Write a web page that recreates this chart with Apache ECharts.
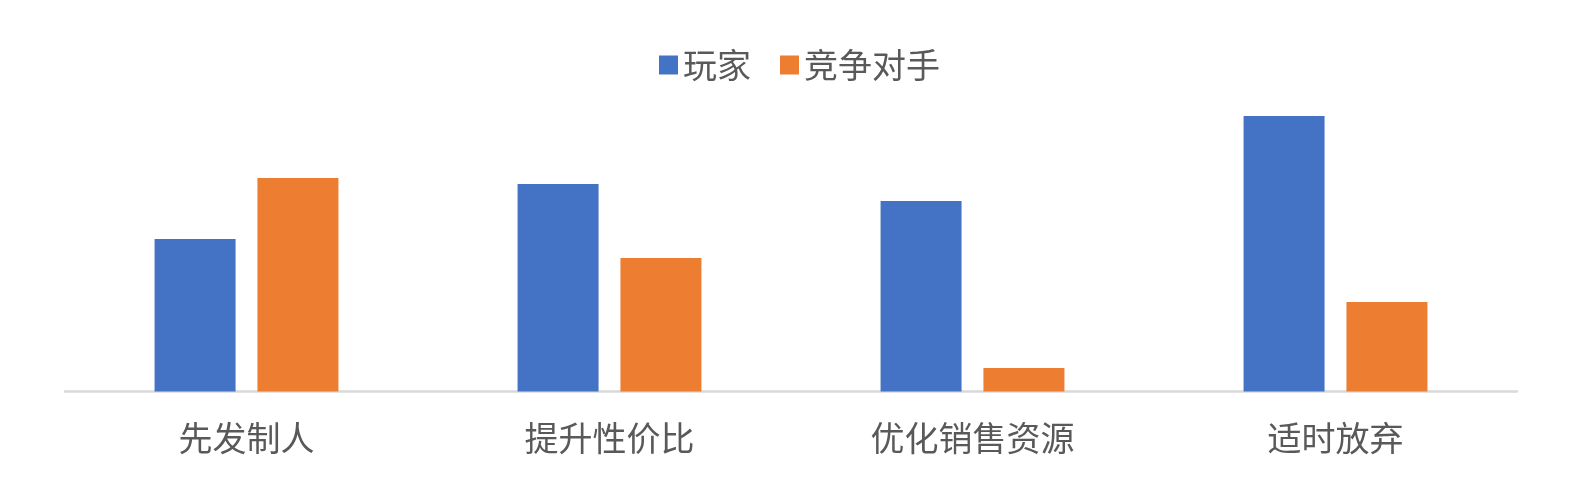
<!DOCTYPE html>
<html>
<head>
<meta charset="utf-8">
<script src="https://cdn.jsdelivr.net/npm/echarts@6/dist/echarts.min.js"></script>
<style>
  html, body { margin: 0; padding: 0; background: #fff; }
  #main { width: 1575px; height: 478px; }
</style>
</head>
<body>
<div id="main"></div>
<script>
// 数据
var categories = ['先发制人', '提升性价比', '优化销售资源', '适时放弃'];
var seriesNames = ['玩家', '竞争对手'];
var playerValues = [3.05, 4.15, 3.81, 5.51];
var rivalValues = [4.27, 2.67, 0.47, 1.79];

var myChart = echarts.init(document.getElementById('main'));

var font = '"Noto Sans CJK SC", "Microsoft YaHei", sans-serif';

var option = {
    animation: false,
    textStyle: { fontFamily: font },
    color: ['#4472C4', '#ED7D31'],
    legend: {
        data: seriesNames,
        left: 654,
        top: 43,
        itemWidth: 19,
        itemHeight: 19,
        itemGap: 29,
        icon: 'rect',
        textStyle: { fontSize: 34, color: '#595959', fontFamily: font }
    },
    grid: {
        left: 65,
        right: 58,
        top: 91.5,
        bottom: 86.5,
        containLabel: false
    },
    xAxis: {
        type: 'category',
        data: categories,
        offset: 1.25,
        axisLine: { lineStyle: { color: '#d9d9d9', width: 2.5 } },
        axisTick: { show: false },
        axisLabel: { fontSize: 34, color: '#595959', margin: 28, fontFamily: font }
    },
    yAxis: {
        type: 'value',
        min: 0,
        max: 6,
        show: false,
        splitLine: { show: false }
    },
    series: [{
        name: seriesNames[0],
        type: 'bar',
        barWidth: 81,
        barGap: '27%',
        data: playerValues
    }, {
        name: seriesNames[1],
        type: 'bar',
        barWidth: 81,
        barGap: '27%',
        data: rivalValues
    }]
};

myChart.setOption(option);
</script>
</body>
</html>
